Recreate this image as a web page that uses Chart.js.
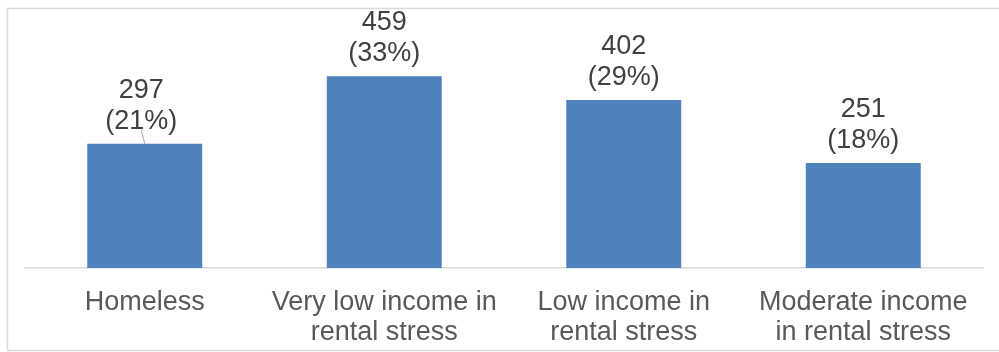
<!DOCTYPE html>
<html>
<head>
<meta charset="utf-8">
<script src="https://cdn.jsdelivr.net/npm/chart.js@4.4.1/dist/chart.umd.min.js"></script>
<style>
  html, body { margin: 0; padding: 0; background: #ffffff; }
  #wrap { position: relative; width: 999px; height: 352px; }
</style>
</head>
<body>
<div id="wrap"><canvas id="chart" width="999" height="352"></canvas></div>
<script>
// Households by housing need
const categories = [
  ['Homeless'],
  ['Very low income in', 'rental stress'],
  ['Low income in', 'rental stress'],
  ['Moderate income', 'in rental stress']
];
const households = [297, 459, 402, 251];

const total = households.reduce((a, b) => a + b, 0);
const FONT = '"Liberation Sans", Arial, sans-serif';

// Outer frame around the chart
const framePlugin = {
  id: 'frame',
  beforeDraw(chart) {
    const ctx = chart.ctx;
    ctx.save();
    ctx.fillStyle = '#ffffff';
    ctx.fillRect(0, 0, chart.width, chart.height);
    ctx.strokeStyle = '#d9d9d9';
    ctx.lineWidth = 1.5;
    ctx.strokeRect(7.5, 8.5, chart.width + 10, chart.height - 10);
    ctx.restore();
  }
};

// Two-line value labels (count and share) above each bar
const valueLabels = {
  id: 'valueLabels',
  afterDatasetsDraw(chart, args, opts) {
    const ctx = chart.ctx;
    const meta = chart.getDatasetMeta(0);
    ctx.save();
    ctx.font = '27px ' + FONT;
    ctx.fillStyle = '#404040';
    ctx.textAlign = 'center';
    ctx.textBaseline = 'alphabetic';
    meta.data.forEach((bar, i) => {
      const v = households[i];
      const pct = Math.round(v / total * 100);
      const dx = (opts.shift && opts.shift[i]) || 0;
      const x = bar.x + dx;
      ctx.fillText(String(v), x, bar.y - 46);
      ctx.fillText('(' + pct + '%)', x, bar.y - 15);
      if (dx !== 0) {
        ctx.strokeStyle = '#a6a6a6';
        ctx.lineWidth = 1;
        ctx.beginPath();
        ctx.moveTo(x, bar.y - 14);
        ctx.lineTo(bar.x, bar.y);
        ctx.stroke();
      }
    });
    ctx.restore();
  }
};

new Chart(document.getElementById('chart'), {
  type: 'bar',
  data: {
    labels: categories,
    datasets: [{
      data: households,
      backgroundColor: '#4f81bd',
      borderWidth: 0,
      categoryPercentage: 0.48,
      barPercentage: 1.0
    }]
  },
  options: {
    responsive: false,
    animation: false,
    devicePixelRatio: 1,
    layout: { padding: { left: 25, right: 16, top: 59, bottom: 0 } },
    plugins: {
      legend: { display: false },
      tooltip: { enabled: false },
      valueLabels: { shift: [-3.5, 0, 0, 0] }
    },
    scales: {
      x: {
        grid: { display: false, drawTicks: false },
        border: { display: true, color: '#d9d9d9', width: 1.5 },
        ticks: {
          color: '#595959',
          font: { family: FONT, size: 27, lineHeight: 1.12 },
          padding: 19,
          maxRotation: 0,
          autoSkip: false
        },
        afterFit(scale) { scale.height = 84; }
      },
      y: {
        display: false,
        min: 0,
        max: 500
      }
    }
  },
  plugins: [framePlugin, valueLabels]
});
</script>
</body>
</html>
